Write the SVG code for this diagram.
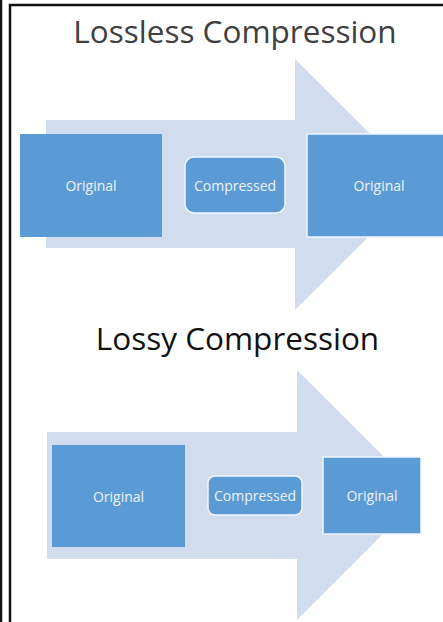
<svg xmlns="http://www.w3.org/2000/svg" width="443" height="622" viewBox="0 0 443 622">
  <defs>
    <style>
      .frame { fill: none; stroke: #111; stroke-width: 2.5; }
      .arrow { fill: #d1ddee; }
      .box { fill: #5b9bd5; }
      .box-edge { fill: #5b9bd5; stroke: #f2f6fb; stroke-width: 1.5; }
      .label { font-family: "Open Sans", "Noto Sans", sans-serif; font-size: 14px; fill: #eef3fa; text-anchor: middle; dominant-baseline: central; }
      .title { font-family: "Open Sans", "Noto Sans", sans-serif; font-size: 31.5px; text-anchor: middle; }
    </style>
  </defs>

  <rect width="443" height="622" fill="#ffffff"/>

  <!-- page frame -->
  <g id="frame">
    <line x1="1" y1="0" x2="1" y2="622" class="frame"/>
    <polyline points="10,622 10,5 443,5" class="frame"/>
  </g>

  <!-- lossless section -->
  <g id="lossless-title">
    <text x="235" y="43" class="title" fill="#404040">Lossless Compression</text>
  </g>
  <g id="connectors">
    <polygon id="lossless-arrow" class="arrow" points="46,120 295,120 295,59 421,184.5 295,310 295,248 46,248"/>
    <polygon id="lossy-arrow" class="arrow" points="47,432 297,432 297,370 422,495 297,620 297,559 47,559"/>
  </g>
  <g id="lossless-original-in">
    <rect x="20" y="134" width="142" height="103" class="box"/>
    <text x="91" y="185" class="label">Original</text>
  </g>
  <g id="lossless-compressed">
    <rect x="185" y="157" width="100" height="56" rx="9" class="box-edge"/>
    <text x="235" y="185" class="label">Compressed</text>
  </g>
  <g id="lossless-original-out">
    <rect x="307" y="134" width="145" height="103" class="box-edge"/>
    <text x="379" y="185" class="label">Original</text>
  </g>

  <!-- lossy section -->
  <g id="lossy-title">
    <text x="237.5" y="350" class="title" fill="#111111">Lossy Compression</text>
  </g>
  <g id="lossy-original-in">
    <rect x="52" y="445" width="133" height="102" class="box"/>
    <text x="118.5" y="496" class="label">Original</text>
  </g>
  <g id="lossy-compressed">
    <rect x="208" y="476" width="94" height="39" rx="7" class="box-edge"/>
    <text x="255" y="495.5" class="label">Compressed</text>
  </g>
  <g id="lossy-original-out">
    <rect x="323" y="457" width="98" height="77" class="box-edge"/>
    <text x="372" y="495.5" class="label">Original</text>
  </g>
</svg>
